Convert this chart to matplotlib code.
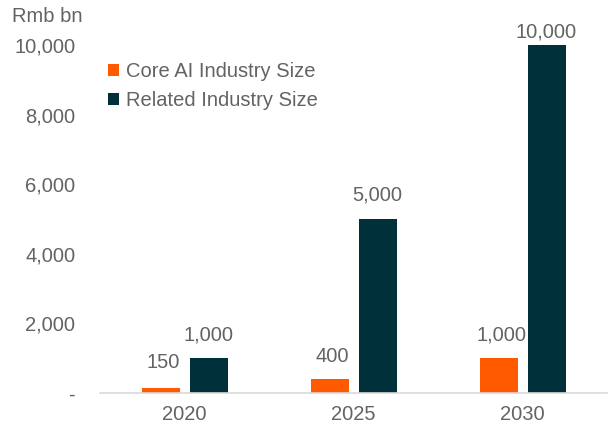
import numpy as np
import matplotlib.pyplot as plt

plt.rcParams['font.family'] = ['Liberation Sans', 'DejaVu Sans']

YEARS = ["2020", "2025", "2030"]
CORE_AI = [150, 400, 1000]
RELATED = [1000, 5000, 10000]
SERIES_NAMES = ["Core AI Industry Size", "Related Industry Size"]
Y_TICKS = [0, 2000, 4000, 6000, 8000, 10000]

ORANGE = "#FF5A00"
DARK = "#00313A"
GREY = "#636363"
FS = 14.5

# label lift above each bar top, in pixels
CORE_LIFT = [25, 23, 23]
RELATED_LIFT = [23, 24, 13]


def fmt(v):
    return "-" if v == 0 else f"{v:,.0f}"


def main():
    fig = plt.figure(figsize=(6.15, 4.29), dpi=100)
    ax = fig.add_axes([0.163, 0.084, 0.824, 0.811])

    x = np.arange(len(YEARS))
    w = 0.225
    off = 0.142
    b1 = ax.bar(x - off, CORE_AI, w, color=ORANGE, label=SERIES_NAMES[0])
    b2 = ax.bar(x + off, RELATED, w, color=DARK, label=SERIES_NAMES[1])

    for bars, vals, lifts in ((b1, CORE_AI, CORE_LIFT), (b2, RELATED, RELATED_LIFT)):
        for rect, v, lift in zip(bars, vals, lifts):
            ax.annotate(fmt(v), (rect.get_x() + rect.get_width() / 2, v),
                        xytext=(2 if bars is b1 else 0, lift * 0.72),
                        textcoords="offset points",
                        ha="center", va="center", fontsize=FS, color=GREY,
                        annotation_clip=False)

    ax.set_xlim(-0.5, 2.5)
    ax.set_ylim(0, 10000)
    ax.set_xticks(x)
    ax.set_xticklabels(YEARS)
    ax.set_yticks(Y_TICKS)
    ax.set_yticklabels([fmt(v) for v in Y_TICKS])
    ax.tick_params(axis="both", length=0, labelsize=FS, labelcolor=GREY)
    ax.tick_params(axis="x", pad=9)
    ax.tick_params(axis="y", pad=18)
    for s in ("top", "right", "left"):
        ax.spines[s].set_visible(False)
    ax.spines["bottom"].set_color("#D9D9D9")
    ax.spines["bottom"].set_linewidth(1.2)

    fig.text(12 / 615, 1 - 17 / 429, "Rmb bn", fontsize=FS, color=GREY,
             ha="left", va="center")

    leg = ax.legend(loc="upper left", bbox_to_anchor=(0.0, 0.975), frameon=False,
                    fontsize=FS, handlelength=0.55, handleheight=0.55,
                    handletextpad=0.35, labelspacing=0.5, borderaxespad=0)
    for t in leg.get_texts():
        t.set_color(GREY)

    fig.savefig("out.png", dpi=100)


if __name__ == "__main__":
    main()
